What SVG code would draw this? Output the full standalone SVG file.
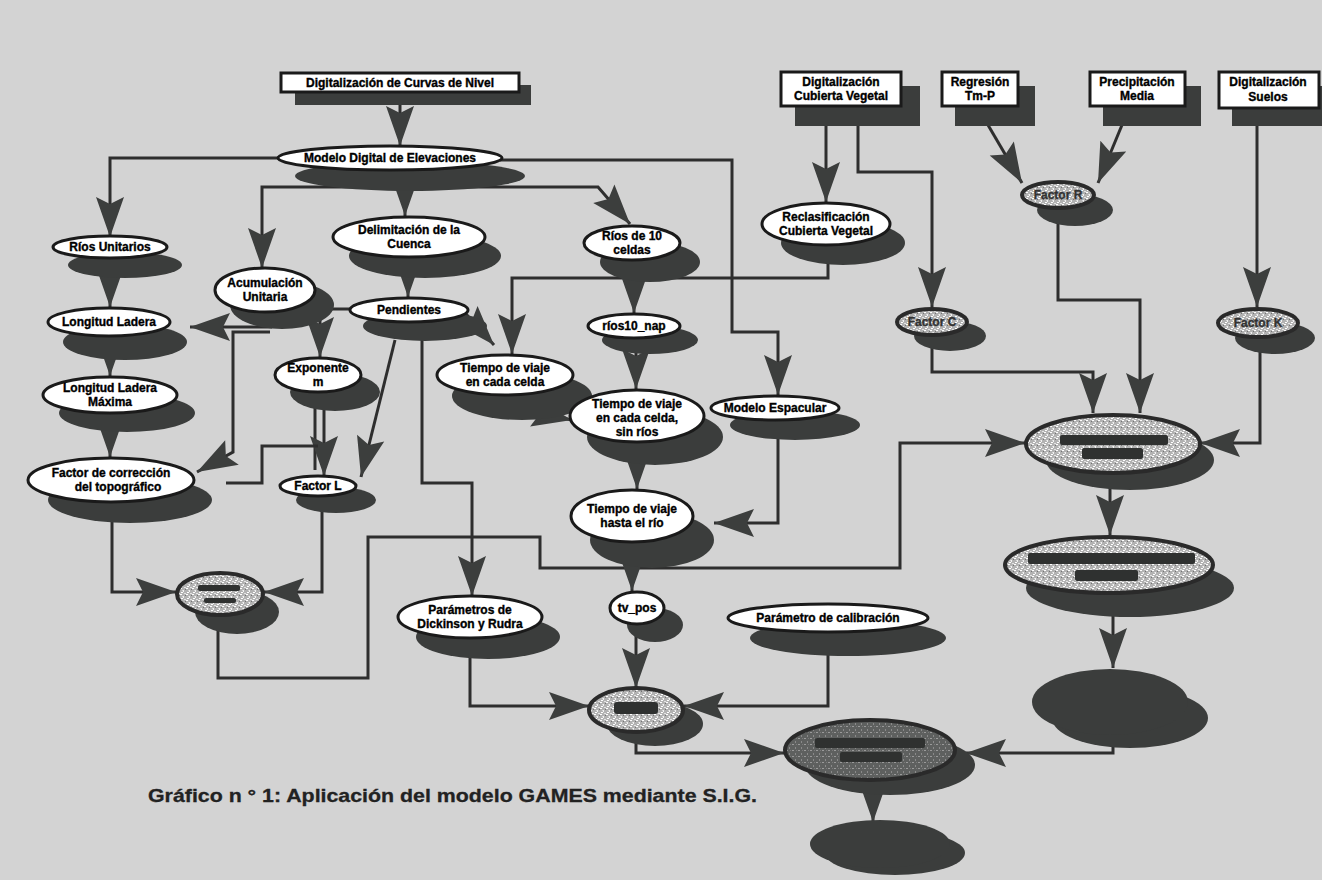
<svg xmlns="http://www.w3.org/2000/svg" width="1322" height="880" viewBox="0 0 1322 880">
  <defs>
    <style>
      .bg { fill: #d3d3d3; }
      .box { fill: #ffffff; stroke: #1a1a1a; stroke-width: 3; }
      .node { fill: #ffffff; stroke: #1a1a1a; stroke-width: 3; }
      .shadow { fill: #3b3d3c; }
      .speck { fill: url(#speck); stroke: #2a2a2a; stroke-width: 4; }
      .speckdark { fill: url(#speck2); stroke: #2a2a2a; stroke-width: 4; }
      .bar { fill: #2f3130; }
      .edge { fill: none; stroke: #2e2e2e; stroke-width: 3; stroke-linejoin: miter; }
      .t { font-family: "Liberation Sans", Arial, sans-serif; font-weight: bold; font-size: 12px; fill: #000; stroke: #000; stroke-width: 0.35; text-anchor: middle; }
      .caption { font-family: "Liberation Sans", Arial, sans-serif; font-weight: bold; font-size: 19px; fill: #222; stroke: #222; stroke-width: 0.3; }
    </style>
    <!-- light speckled fill for the computed factor layers -->
    <pattern id="speck" width="6" height="6" patternUnits="userSpaceOnUse">
      <rect width="6" height="6" fill="#b2b2b2"/>
      <rect x="0" y="0" width="2" height="1" fill="#ffffff"/>
      <rect x="3" y="2" width="1" height="2" fill="#f2f2f2"/>
      <rect x="1" y="4" width="2" height="1" fill="#ffffff"/>
      <rect x="4" y="5" width="2" height="1" fill="#e4e4e4"/>
      <rect x="5" y="1" width="1" height="1" fill="#747474"/>
      <rect x="2" y="2" width="1" height="1" fill="#d6d6d6"/>
    </pattern>
    <!-- darker speckled fill for the final result layer -->
    <pattern id="speck2" width="6" height="6" patternUnits="userSpaceOnUse">
      <rect width="6" height="6" fill="#5e605f"/>
      <rect x="0" y="0" width="2" height="1" fill="#9a9a9a"/>
      <rect x="3" y="3" width="1" height="2" fill="#8a8a8a"/>
      <rect x="4" y="0" width="1" height="1" fill="#7a7a7a"/>
    </pattern>
    <marker id="ah" viewBox="-42 -16 44 32" refX="0" refY="0" markerWidth="44" markerHeight="32" orient="auto" markerUnits="userSpaceOnUse">
      <path d="M0,0 L-40,-14 L-33,0 L-40,14 Z" fill="#3c3e3d"/>
    </marker>
  </defs>

  <rect class="bg" x="0" y="0" width="1322" height="880"/>

  <!-- connectors -->
  <g id="connectors">
    <path class="edge" d="M400,104 V146" marker-end="url(#ah)"/>
    <path class="edge" d="M282,158 H110 V237" marker-end="url(#ah)"/>
    <path class="edge" d="M330,187 H262 V268" marker-end="url(#ah)"/>
    <path class="edge" d="M330,187 H598 L630,224" marker-end="url(#ah)"/>
    <path class="edge" d="M405,176 V216" marker-end="url(#ah)"/>
    <path class="edge" d="M500,160 H732 V332 H778 V395" marker-end="url(#ah)"/>
    <path class="edge" d="M408,260 V297" marker-end="url(#ah)"/>
    <path class="edge" d="M272,327 H190" marker-end="url(#ah)"/>
    <path class="edge" d="M318,309 H352"/>
    <path class="edge" d="M320,318 V357" marker-end="url(#ah)"/>
    <path class="edge" d="M270,332 H233 V452 L197,472" marker-end="url(#ah)"/>
    <path class="edge" d="M110,258 V307" marker-end="url(#ah)"/>
    <path class="edge" d="M110,345 V376" marker-end="url(#ah)"/>
    <path class="edge" d="M110,420 V457" marker-end="url(#ah)"/>
    <path class="edge" d="M315,392 V470"/>
    <path class="edge" d="M324,392 V476" marker-end="url(#ah)"/>
    <path class="edge" d="M226,483 H262 V446 H318"/>
    <path class="edge" d="M395,340 L361,477" marker-end="url(#ah)"/>
    <path class="edge" d="M112,520 V592 H176" marker-end="url(#ah)"/>
    <path class="edge" d="M322,510 V592 H264" marker-end="url(#ah)"/>
    <path class="edge" d="M218,630 V678 H368 V537 H540 V568 H900 V443 H1025" marker-end="url(#ah)"/>
    <path class="edge" d="M422,330 V483 H472 V596" marker-end="url(#ah)"/>
    <path class="edge" d="M466,314 L494,345" marker-end="url(#ah)"/>
    <path class="edge" d="M828,262 V278 H512 V354" marker-end="url(#ah)"/>
    <path class="edge" d="M540,414 L572,420" marker-end="url(#ah)"/>
    <path class="edge" d="M634,262 V313" marker-end="url(#ah)"/>
    <path class="edge" d="M636,345 V389" marker-end="url(#ah)"/>
    <path class="edge" d="M637,460 V489" marker-end="url(#ah)"/>
    <path class="edge" d="M778,430 V523 H714" marker-end="url(#ah)"/>
    <path class="edge" d="M632,560 V591" marker-end="url(#ah)"/>
    <path class="edge" d="M636,635 V688" marker-end="url(#ah)"/>
    <path class="edge" d="M470,655 V706 H589" marker-end="url(#ah)"/>
    <path class="edge" d="M828,650 V706 H684" marker-end="url(#ah)"/>
    <path class="edge" d="M636,735 V753 H784" marker-end="url(#ah)"/>
    <path class="edge" d="M873,790 V822" marker-end="url(#ah)"/>
    <path class="edge" d="M826,125 V202" marker-end="url(#ah)"/>
    <path class="edge" d="M858,125 V172 H932 V307" marker-end="url(#ah)"/>
    <path class="edge" d="M988,125 L1022,183" marker-end="url(#ah)"/>
    <path class="edge" d="M1122,125 L1098,183" marker-end="url(#ah)"/>
    <path class="edge" d="M1058,222 V300 H1140 V413" marker-end="url(#ah)"/>
    <path class="edge" d="M932,345 V372 H1093 V413" marker-end="url(#ah)"/>
    <path class="edge" d="M1257,125 V307" marker-end="url(#ah)"/>
    <path class="edge" d="M1260,352 V443 H1200" marker-end="url(#ah)"/>
    <path class="edge" d="M1110,488 V535" marker-end="url(#ah)"/>
    <path class="edge" d="M1113,615 V668" marker-end="url(#ah)"/>
    <path class="edge" d="M1113,745 V753 H966" marker-end="url(#ah)"/>
  </g>

  <!-- source layers (boxes) -->
  <g id="curvas">
    <rect class="shadow" x="295" y="85" width="236" height="20"/>
    <rect class="box" x="281" y="73" width="238" height="19"/>
    <text class="t" x="400" y="87">Digitalización  de Curvas de Nivel</text>
  </g>
  <g id="cubierta">
    <rect class="shadow" x="795" y="86" width="125" height="40"/>
    <rect class="box" x="781" y="72" width="120" height="34"/>
    <text class="t" x="841" y="86">Digitalización</text>
    <text class="t" x="841" y="100">Cubierta Vegetal</text>
  </g>
  <g id="regresion">
    <rect class="shadow" x="955" y="86" width="80" height="40"/>
    <rect class="box" x="942" y="72" width="76" height="34"/>
    <text class="t" x="980" y="86">Regresión</text>
    <text class="t" x="980" y="100">Tm-P</text>
  </g>
  <g id="precipitacion">
    <rect class="shadow" x="1103" y="86" width="98" height="40"/>
    <rect class="box" x="1090" y="72" width="95" height="34"/>
    <text class="t" x="1137" y="86">Precipitación</text>
    <text class="t" x="1137" y="100">Media</text>
  </g>
  <g id="suelos">
    <rect class="shadow" x="1232" y="86" width="92" height="40"/>
    <rect class="box" x="1219" y="72" width="100" height="36"/>
    <text class="t" x="1268" y="86">Digitalización</text>
    <text class="t" x="1268" y="101">Suelos</text>
  </g>

  <!-- derived layers (ellipses) -->
  <g id="mde">
    <ellipse class="shadow" cx="410" cy="176" rx="115" ry="15"/>
    <ellipse class="node" cx="390" cy="158" rx="112" ry="12"/>
    <text class="t" x="390" y="162">Modelo  Digital  de Elevaciones</text>
  </g>
  <g id="rios-unitarios">
    <ellipse class="shadow" cx="125" cy="265" rx="57" ry="13"/>
    <ellipse class="node" cx="110" cy="247" rx="57" ry="11"/>
    <text class="t" x="110" y="251">Ríos Unitarios</text>
  </g>
  <g id="acumulacion">
    <ellipse class="shadow" cx="282" cy="305" rx="52" ry="24"/>
    <ellipse class="node" cx="265" cy="290" rx="50" ry="22"/>
    <text class="t" x="265" y="287">Acumulación</text>
    <text class="t" x="265" y="301">Unitaria</text>
  </g>
  <g id="delimitacion">
    <ellipse class="shadow" cx="425" cy="256" rx="76" ry="22"/>
    <ellipse class="node" cx="409" cy="237" rx="76" ry="20"/>
    <text class="t" x="409" y="234">Delimitación de la</text>
    <text class="t" x="409" y="248">Cuenca</text>
  </g>
  <g id="rios10">
    <ellipse class="shadow" cx="650" cy="262" rx="50" ry="20"/>
    <ellipse class="node" cx="632" cy="243" rx="48" ry="17"/>
    <text class="t" x="632" y="240">Ríos de  10</text>
    <text class="t" x="632" y="254">celdas</text>
  </g>
  <g id="reclasificacion">
    <ellipse class="shadow" cx="843" cy="243" rx="62" ry="22"/>
    <ellipse class="node" cx="826" cy="224" rx="64" ry="21"/>
    <text class="t" x="826" y="221">Reclasificación</text>
    <text class="t" x="826" y="235">Cubierta Vegetal</text>
  </g>
  <g id="factor-r">
    <ellipse class="shadow" cx="1075" cy="210" rx="38" ry="16"/>
    <ellipse class="speck" cx="1058" cy="195" rx="36" ry="13"/>
    <text class="t" x="1058" y="199" style="fill:#333;stroke:#333">Factor R</text>
  </g>
  <g id="pendientes">
    <ellipse class="shadow" cx="425" cy="326" rx="62" ry="15"/>
    <ellipse class="node" cx="409" cy="310" rx="59" ry="12"/>
    <text class="t" x="409" y="314">Pendientes</text>
  </g>
  <g id="longitud">
    <ellipse class="shadow" cx="125" cy="342" rx="62" ry="18"/>
    <ellipse class="node" cx="109" cy="322" rx="61" ry="14"/>
    <text class="t" x="109" y="326">Longitud Ladera</text>
  </g>
  <g id="longitud-max">
    <ellipse class="shadow" cx="127" cy="413" rx="68" ry="19"/>
    <ellipse class="node" cx="110" cy="395" rx="67" ry="18"/>
    <text class="t" x="110" y="392">Longitud Ladera</text>
    <text class="t" x="110" y="406">Máxima</text>
  </g>
  <g id="factor-correccion">
    <ellipse class="shadow" cx="130" cy="500" rx="82" ry="23"/>
    <ellipse class="node" cx="111" cy="480" rx="83" ry="22"/>
    <text class="t" x="111" y="477">Factor de corrección</text>
    <text class="t" x="118" y="491">del topográfico</text>
  </g>
  <g id="exponente">
    <ellipse class="shadow" cx="335" cy="392" rx="45" ry="19"/>
    <ellipse class="node" cx="318" cy="375" rx="43" ry="17"/>
    <text class="t" x="318" y="372">Exponente</text>
    <text class="t" x="318" y="386">m</text>
  </g>
  <g id="factor-l">
    <ellipse class="shadow" cx="336" cy="500" rx="40" ry="13"/>
    <ellipse class="node" cx="318" cy="486" rx="38" ry="10"/>
    <text class="t" x="318" y="490">Factor L</text>
  </g>
  <g id="factor-ls">
    <ellipse class="shadow" cx="237" cy="612" rx="42" ry="22"/>
    <ellipse class="speck" cx="220" cy="594" rx="43" ry="21"/>
    <rect class="bar" x="198" y="585" width="42" height="6" rx="2"/>
    <rect class="bar" x="204" y="598" width="32" height="5" rx="2"/>
  </g>
  <g id="tiempo-celda">
    <ellipse class="shadow" cx="522" cy="396" rx="70" ry="24"/>
    <ellipse class="node" cx="505" cy="375" rx="68" ry="20"/>
    <text class="t" x="505" y="372">Tiempo de viaje</text>
    <text class="t" x="505" y="386">en cada celda</text>
  </g>
  <g id="rios10-nap">
    <ellipse class="shadow" cx="650" cy="340" rx="48" ry="14"/>
    <ellipse class="node" cx="634" cy="326" rx="46" ry="12"/>
    <text class="t" x="634" y="330">ríos10_nap</text>
  </g>
  <g id="tiempo-sin-rios">
    <ellipse class="shadow" cx="655" cy="437" rx="68" ry="28"/>
    <ellipse class="node" cx="637" cy="416" rx="67" ry="26"/>
    <text class="t" x="637" y="408">Tiempo de viaje</text>
    <text class="t" x="637" y="422">en cada celda,</text>
    <text class="t" x="637" y="436">sin ríos</text>
  </g>
  <g id="espacular">
    <ellipse class="shadow" cx="795" cy="425" rx="65" ry="15"/>
    <ellipse class="node" cx="775" cy="408" rx="64" ry="12"/>
    <text class="t" x="775" y="412">Modelo Espacular</text>
  </g>
  <g id="tiempo-rio">
    <ellipse class="shadow" cx="652" cy="540" rx="62" ry="28"/>
    <ellipse class="node" cx="632" cy="516" rx="61" ry="26"/>
    <text class="t" x="632" y="513">Tiempo de viaje</text>
    <text class="t" x="632" y="527">hasta el río</text>
  </g>
  <g id="factor-c">
    <ellipse class="shadow" cx="950" cy="336" rx="36" ry="15"/>
    <ellipse class="speck" cx="932" cy="322" rx="35" ry="13"/>
    <text class="t" x="932" y="326" style="fill:#333;stroke:#333">Factor C</text>
  </g>
  <g id="factor-k">
    <ellipse class="shadow" cx="1275" cy="338" rx="40" ry="16"/>
    <ellipse class="speck" cx="1258" cy="323" rx="40" ry="14"/>
    <text class="t" x="1258" y="327" style="fill:#333;stroke:#333">Factor K</text>
  </g>
  <g id="combinada-1">
    <ellipse class="shadow" cx="1130" cy="460" rx="84" ry="30"/>
    <ellipse class="speck" cx="1113" cy="444" rx="87" ry="29"/>
    <rect class="bar" x="1060" y="435" width="108" height="10" rx="2"/>
    <rect class="bar" x="1082" y="448" width="61" height="11" rx="2"/>
  </g>
  <g id="combinada-2">
    <ellipse class="shadow" cx="1130" cy="588" rx="104" ry="29"/>
    <ellipse class="speck" cx="1109" cy="565" rx="104" ry="28"/>
    <rect class="bar" x="1028" y="553" width="167" height="11" rx="2"/>
    <rect class="bar" x="1075" y="570" width="63" height="11" rx="2"/>
  </g>
  <g id="resultado-1">
    <ellipse class="shadow" cx="1130" cy="718" rx="78" ry="30"/>
    <ellipse class="shadow" cx="1110" cy="702" rx="78" ry="33"/>
  </g>
  <g id="parametros">
    <ellipse class="shadow" cx="488" cy="637" rx="72" ry="22"/>
    <ellipse class="node" cx="470" cy="617" rx="72" ry="21"/>
    <text class="t" x="470" y="614">Parámetros de</text>
    <text class="t" x="470" y="628">Dickinson y Rudra</text>
  </g>
  <g id="tv-pos">
    <ellipse class="shadow" cx="655" cy="625" rx="28" ry="17"/>
    <ellipse class="node" cx="637" cy="608" rx="27" ry="16"/>
    <text class="t" x="637" y="612">tv_pos</text>
  </g>
  <g id="calibracion">
    <ellipse class="shadow" cx="848" cy="638" rx="98" ry="18"/>
    <ellipse class="node" cx="828" cy="618" rx="100" ry="14"/>
    <text class="t" x="828" y="622">Parámetro de calibración</text>
  </g>
  <g id="sedimento">
    <ellipse class="shadow" cx="655" cy="724" rx="48" ry="22"/>
    <ellipse class="speck" cx="636" cy="710" rx="47" ry="22"/>
    <rect class="bar" x="614" y="702" width="44" height="12" rx="3"/>
  </g>
  <g id="resultado-2">
    <ellipse class="shadow" cx="890" cy="765" rx="85" ry="30"/>
    <ellipse class="speckdark" cx="870" cy="750" rx="85" ry="30"/>
    <rect class="bar" x="815" y="738" width="110" height="10" rx="2"/>
    <rect class="bar" x="840" y="752" width="62" height="10" rx="2"/>
  </g>
  <g id="resultado-3">
    <ellipse class="shadow" cx="895" cy="853" rx="70" ry="22"/>
    <ellipse class="shadow" cx="880" cy="844" rx="70" ry="24"/>
  </g>

  <text class="caption" x="148" y="802" textLength="609" lengthAdjust="spacingAndGlyphs">Gráfico n ° 1: Aplicación del modelo GAMES mediante S.I.G.</text>
</svg>
